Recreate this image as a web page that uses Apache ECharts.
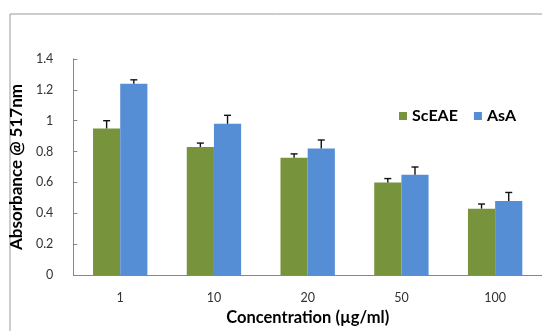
<!DOCTYPE html>
<html><head><meta charset="utf-8">
<script src="https://cdn.jsdelivr.net/npm/echarts@6/dist/echarts.min.js"></script>
<style>html,body{margin:0;padding:0;background:#fff}#c{width:542px;height:331px}</style>
</head><body><div id="c"></div>
<script>
const categories = ['1','10','20','50','100'];
const scEAE = [0.95, 0.83, 0.76, 0.60, 0.43];
const scEAEErr = [0.05, 0.025, 0.025, 0.025, 0.03];
const asA = [1.24, 0.98, 0.82, 0.65, 0.48];
const asAErr = [0.025, 0.055, 0.055, 0.05, 0.055];
const yTicks = [0, 0.2, 0.4, 0.6, 0.8, 1, 1.2, 1.4];

const FONT = 'Lato';
const chart = echarts.init(document.getElementById('c'));

function errSeries(name, vals, errs, offsetIndex) {
  return {
    type: 'custom', name: name + ' err', z: 10, silent: true,
    data: vals.map((v, i) => [i, v, v + errs[i]]),
    renderItem: function (params, api) {
      const top = api.coord([api.value(0), api.value(2)]);
      const base = api.coord([api.value(0), api.value(1)]);
      const bw = api.size([1, 0])[0];
      const barW = bw * 0.29;
      const cx = top[0] + (offsetIndex === 0 ? -barW / 2 : barW / 2);
      const cap = 3.5;
      return {
        type: 'group',
        children: [
          { type: 'line', shape: { x1: cx, y1: base[1], x2: cx, y2: top[1] }, style: { stroke: '#111', lineWidth: 1.4 } },
          { type: 'line', shape: { x1: cx - cap, y1: top[1], x2: cx + cap, y2: top[1] }, style: { stroke: '#111', lineWidth: 1.4 } }
        ]
      };
    }
  };
}

chart.setOption({
  animation: false,
  graphic: [{ type: 'rect', shape: { x: 10, y: 14, width: 560, height: 340 }, style: { fill: 'none', stroke: '#9a9a9a', lineWidth: 1 }, silent: true, z: 0 }],
  grid: { left: 70, top: 59, width: 476, height: 222 },
  legend: {
    data: ['ScEAE', 'AsA'], left: 394, top: 103, itemWidth: 8, itemHeight: 8, itemGap: 16,
    icon: 'rect',
    textStyle: { fontFamily: FONT, fontWeight: 'bold', fontSize: 16, color: '#000' }
  },
  xAxis: {
    type: 'category', data: categories,
    name: 'Concentration (µg/ml)', nameLocation: 'middle', nameGap: 34,
    nameTextStyle: { fontFamily: FONT, fontWeight: 'bold', fontSize: 16.5, color: '#000' },
    axisLine: { lineStyle: { color: '#868686', width: 1 } },
    axisTick: { inside: true, length: 5, lineStyle: { color: '#868686' } },
    axisLabel: { fontFamily: FONT, fontSize: 12.5, color: '#333', margin: 16 }
  },
  yAxis: {
    type: 'value', min: 0, max: 1.4, interval: 0.2,
    name: 'Absorbance @ 517nm', nameLocation: 'middle', nameGap: 38,
    nameTextStyle: { fontFamily: FONT, fontWeight: 'bold', fontSize: 17, color: '#000' },
    axisLine: { show: true, lineStyle: { color: '#868686' } },
    axisTick: { show: true, inside: true, length: 4, lineStyle: { color: '#868686' } },
    splitLine: { show: false },
    axisLabel: { fontFamily: FONT, fontSize: 12.5, color: '#333', margin: 20,
      formatter: v => { const t = yTicks.find(x => Math.abs(x - v) < 1e-9); return t === undefined ? '' : String(t); } }
  },
  series: [
    { name: 'ScEAE', type: 'bar', data: scEAE, barWidth: '29%', barGap: '0%', itemStyle: { color: '#77933C' } },
    { name: 'AsA', type: 'bar', data: asA, barWidth: '29%', barGap: '0%', itemStyle: { color: '#558ED5' } },
    errSeries('ScEAE', scEAE, scEAEErr, 0),
    errSeries('AsA', asA, asAErr, 1)
  ]
});
</script></body></html>
